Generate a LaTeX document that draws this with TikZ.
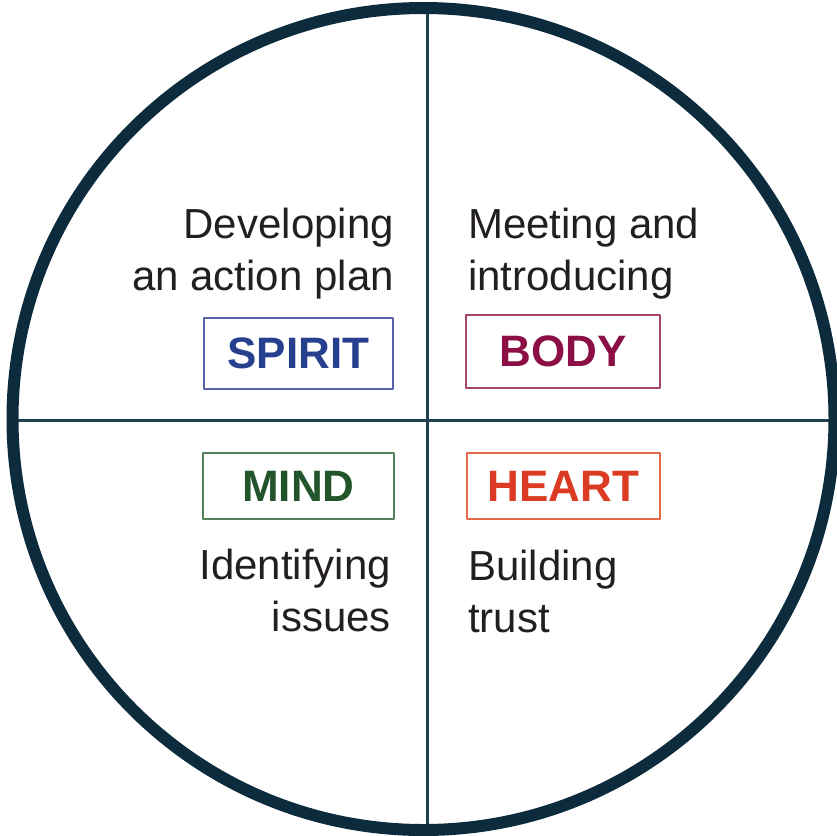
\documentclass[tikz,border=0pt]{standalone}
\usepackage{fontspec}
\setmainfont{Liberation Sans}
\definecolor{ringnavy}{HTML}{0C2B3C}
\definecolor{splitline}{HTML}{1F4252}
\definecolor{inkgrey}{HTML}{231F20}
\definecolor{spiritblue}{HTML}{263F8F}
\definecolor{spiritedge}{HTML}{5862A8}
\definecolor{bodywine}{HTML}{8B0F45}
\definecolor{bodyedge}{HTML}{A84468}
\definecolor{mindgreen}{HTML}{22552B}
\definecolor{mindedge}{HTML}{55805B}
\definecolor{heartred}{HTML}{DB3B22}
\definecolor{heartedge}{HTML}{E8684A}

\begin{document}
\begin{tikzpicture}[x=1pt, y=-1pt, line cap=round, line join=round,
    tag/.style={draw, line width=2pt, inner sep=0pt,
      font=\fontsize{44}{44}\selectfont\bfseries},
    phase/.style={inner sep=0pt, text=inkgrey,
      font=\fontsize{42}{52}\selectfont}]
      \useasboundingbox (0,0) rectangle (837,835);

      % --- IMPARTIREA IN CADRANE ---
      \begin{scope}
        \clip (423.5,419) circle (411);
        \draw[splitline, line width=3pt] (427,0) -- (427,835);
        \draw[splitline, line width=3pt] (0,420) -- (837,420);
      \end{scope}

      % --- CERCUL EXTERIOR ---
      \draw[ringnavy, line width=12pt] (423.5,419) circle (411);

      % --- ETICHETE CADRANE ---
      \node[tag, draw=spiritedge, text=spiritblue, minimum width=189, minimum height=71]
        (spirit) at (298.5,353.5) {SPIRIT};
      \node[tag, draw=bodyedge, text=bodywine, minimum width=194, minimum height=73]
        (body) at (563,351.5) {BODY};
      \node[tag, draw=mindedge, text=mindgreen, minimum width=191, minimum height=66]
        (mind) at (298.5,486) {MIND};
      \node[tag, draw=heartedge, text=heartred, minimum width=193, minimum height=66]
        (heart) at (563.5,486) {HEART};

      % --- DESCRIERI (ancora = ultima linie) ---
      \node[phase, align=right, anchor=base east] (plan) at (394,290)
        {Developing\\an action plan};
      \node[phase, align=left, anchor=base west] (meet) at (468,290)
        {Meeting and\\introducing};
      \node[phase, align=right, anchor=base east] (issues) at (391,631)
        {Identifying\\issues};
      \node[phase, align=left, anchor=base west] (trust) at (468,632)
        {Building\\trust};

    \end{tikzpicture}
\end{document}
